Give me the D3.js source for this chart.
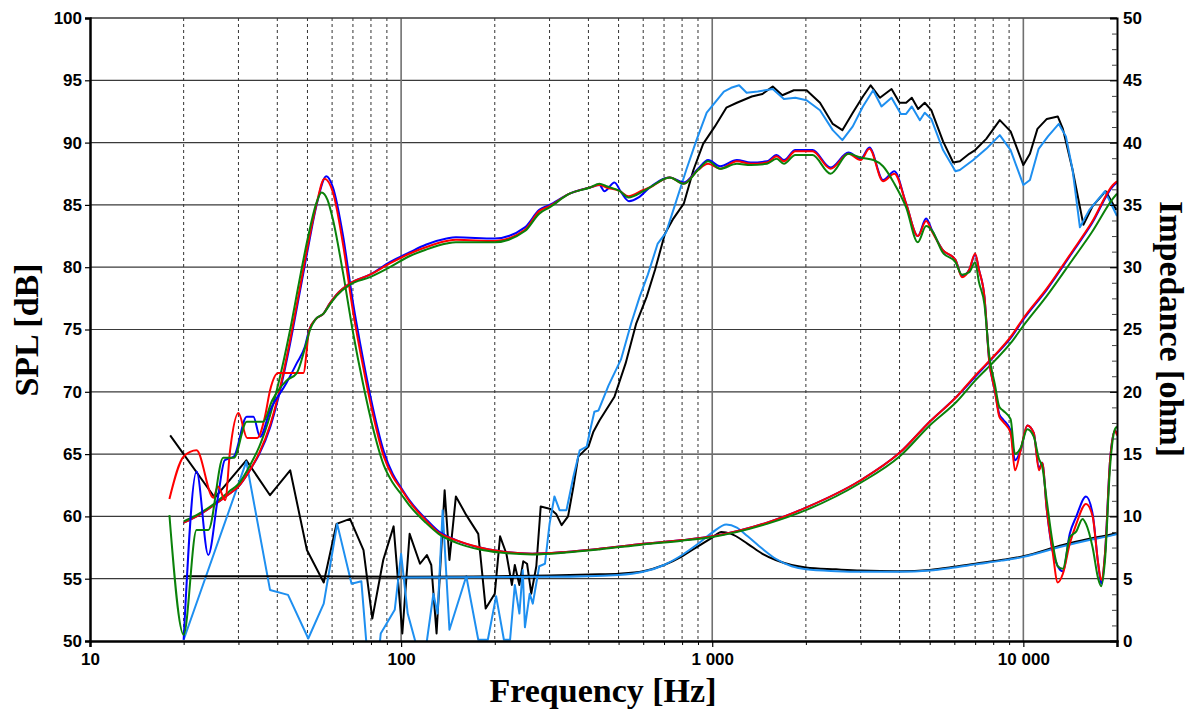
<!DOCTYPE html>
<html>
<head>
<meta charset="utf-8">
<script src="https://cdn.jsdelivr.net/npm/d3@7"></script>
<style>
  body { margin: 0; background: #fff; }
</style>
</head>
<body>
<div id="chart"></div>
<script>
// chart size and plot margins
const width = 1197,
      height = 711,
      margin = {top: 18, right: 80, bottom: 70, left: 90};

const innerWidth = width - margin.left - margin.right,
      innerHeight = height - margin.top - margin.bottom;

const tickFont = "'Liberation Sans', Arial, sans-serif",
      titleFont = "'Liberation Serif', 'Times New Roman', serif";

// ---- data: [frequency Hz, value] ----
// woofer impedance (ohm, right axis)
const impBlue = [[20,9.5],[22,10.0],[25,10.9],[28,11.8],[30,12.4],[33,13.9],[35,15.0],[38,17.2],[40,19.2],[44,23.9],[47,27.7],[50,31.3],[53.5,35.0],[57.5,37.3],[60.4,36.4],[65,32.6],[70,27.2],[75.5,22.6],[81,18.8],[88,15.2],[94,13.4],[100,12.3],[107,11.2],[120,9.8],[132,8.8],[150,8.1],[179,7.5],[208,7.2],[264,7.0],[339,7.15],[434,7.4],[600,7.8],[800,8.1],[1000,8.4],[1500,9.5],[2000,10.7],[3000,12.9],[4000,15.1],[5000,17.6],[6100,19.6],[7000,21.2],[8100,22.9],[9100,24.3],[10000,25.8],[11900,28.2],[14300,31.1],[16600,33.5],[19400,36.5],[20000,36.8]];
const impRed = [[20,9.5],[22,10.0],[25,10.9],[28,11.8],[30,12.4],[33,13.9],[35,15.1],[38,17.4],[40,19.4],[44,24.2],[47,28.0],[50,31.6],[53.5,35.1],[56.7,37.1],[60.4,36.0],[65,31.9],[70,26.5],[75.5,22.0],[81,18.3],[88,14.8],[94,13.2],[100,12.2],[107,11.1],[120,9.7],[132,8.7],[150,8.1],[179,7.5],[208,7.2],[264,7.0],[339,7.15],[434,7.4],[600,7.8],[800,8.1],[1000,8.4],[1500,9.5],[2000,10.7],[3000,12.9],[4000,15.1],[5000,17.6],[6100,19.6],[7000,21.3],[8100,22.95],[9100,24.4],[10000,25.9],[11900,28.3],[14300,31.2],[16600,33.6],[19400,36.6],[20000,36.9]];
const impGreen = [[20,9.6],[22,10.1],[25,11.0],[28,12.0],[30,12.6],[33,14.3],[35,15.6],[38,18.2],[40,20.3],[44,25.0],[47,28.8],[50,32.2],[53.5,35.2],[55.5,36.0],[58,35.4],[60.4,33.8],[65,29.6],[70,24.8],[75.5,20.6],[81,17.2],[88,14.1],[94,12.7],[100,11.8],[107,10.8],[120,9.5],[132,8.6],[150,7.9],[179,7.35],[208,7.1],[264,6.95],[339,7.1],[434,7.35],[600,7.75],[800,8.05],[1000,8.35],[1500,9.4],[2000,10.5],[3000,12.7],[4000,14.8],[5000,17.3],[6100,19.2],[7000,20.9],[8100,22.5],[9100,23.9],[10000,25.3],[11900,27.7],[14300,30.5],[16600,32.8],[19400,35.5],[20000,35.9]];

// woofer SPL (dB, left axis)
const splBlue = [[20,50.1],[22,63.6],[24,56.9],[25.8,61.6],[27.1,64.5],[29,64.8],[31.9,68.0],[33.5,68.0],[35.2,66.4],[37.9,68.5],[42.8,70.7],[46.2,72.3],[49,73.6],[50.7,75.0],[53,75.8],[56.4,76.3],[59,77.1],[62,77.8],[68.5,78.7],[79.4,79.4],[92,80.4],[106.7,81.2],[120,81.8],[140,82.3],[150,82.4],[200,82.3],[250,83.2],[278,84.6],[300,85.0],[348,85.9],[405,86.4],[434,86.6],[450,86.1],[485,86.8],[510,86.0],[540,85.3],[580,85.6],[630,86.4],[730,87.2],[810,86.8],[900,87.9],[970,88.6],[1060,88.1],[1200,88.6],[1330,88.4],[1500,88.5],[1610,89.0],[1700,88.6],[1850,89.4],[2100,89.4],[2400,88.0],[2740,89.2],[3000,88.7],[3200,89.6],[3540,87.0],[3850,87.7],[4200,85.1],[4580,82.5],[4870,83.9],[5100,82.9],[5500,81.4],[6050,80.6],[6350,79.3],[6700,79.8],[7000,81.0],[7200,79.8],[7500,77.6],[7760,72.6],[8100,70.1],[8370,68.2],[8600,67.8],[9100,66.9],[9400,64.5],[9800,65.3],[10300,67.3],[10800,66.7],[11230,63.9],[11500,64.3],[11900,60.5],[12400,57.3],[12900,56.0],[13400,55.6],[14100,58.6],[14800,60.0],[15900,61.6],[16700,60.2],[17400,56.2],[17800,54.6],[18300,57.0],[19000,64.5],[19700,66.9],[20000,66.6]];
const splRed = [[18,61.4],[20,64.8],[22,65.3],[24.9,61.5],[25.8,62.4],[27.2,61.3],[28.2,65.3],[30,68.3],[32,66.3],[34.5,66.3],[36.5,68.0],[37.9,70.1],[40.3,71.5],[48.5,71.5],[50.7,75.0],[53,75.8],[56.4,76.3],[59,77.1],[62,77.8],[68.5,78.7],[79.4,79.4],[92,80.3],[106.7,81.1],[120,81.6],[140,82.1],[150,82.2],[200,82.1],[250,83.0],[278,84.5],[300,84.9],[348,85.9],[405,86.4],[434,86.6],[457,86.4],[505,86.1],[538,85.7],[600,86.2],[630,86.4],[730,87.2],[810,86.7],[900,87.8],[970,88.3],[1060,87.9],[1200,88.5],[1330,88.3],[1500,88.4],[1610,88.9],[1700,88.5],[1850,89.3],[2100,89.3],[2400,87.9],[2740,89.1],[3000,88.6],[3200,89.5],[3540,86.9],[3850,87.5],[4200,85.1],[4580,82.5],[4870,83.7],[5100,82.8],[5500,81.4],[6050,80.6],[6350,79.2],[6700,79.8],[7000,81.1],[7200,79.8],[7500,77.6],[7760,72.6],[8100,70.1],[8370,68.0],[8600,67.6],[9100,66.7],[9400,63.7],[9800,65.3],[10300,67.3],[10800,66.7],[11230,63.7],[11500,64.3],[11900,60.5],[12400,57.3],[12900,54.7],[13400,55.4],[14100,57.8],[14800,59.4],[15900,61.0],[16700,60.0],[17400,56.2],[17800,54.9],[18300,57.0],[19000,64.5],[19700,66.9],[20000,66.5]];
const splGreen = [[18,60.1],[20,50.5],[22,58.9],[24,58.9],[26.8,64.7],[29,64.7],[31.9,67.6],[36,67.6],[38.5,69.3],[42.8,70.9],[46.2,71.5],[49.2,73.6],[51,75.0],[53,75.8],[56.4,76.3],[59,77.0],[62,77.7],[68.5,78.6],[79.4,79.2],[92,80.0],[106.7,80.9],[120,81.4],[140,81.9],[150,82.0],[200,82.0],[250,82.9],[278,84.3],[300,84.8],[348,85.9],[405,86.4],[434,86.7],[457,86.5],[505,86.1],[538,85.6],[600,86.1],[630,86.4],[730,87.2],[810,86.7],[900,87.8],[970,88.5],[1060,87.9],[1200,88.3],[1330,88.2],[1500,88.3],[1610,88.7],[1700,88.3],[1850,89.0],[2100,89.0],[2400,87.5],[2740,89.1],[3000,88.8],[3300,88.6],[3540,88.1],[3850,86.7],[4200,84.8],[4580,82.0],[4870,83.3],[5100,82.9],[5500,81.2],[6050,80.4],[6350,79.4],[6700,79.6],[7000,80.4],[7200,78.8],[7500,77.0],[7760,73.0],[8100,70.6],[8370,68.8],[8600,68.5],[9100,67.8],[9400,65.0],[9800,65.5],[10300,67.0],[10800,66.4],[11230,64.6],[11500,64.0],[11900,61.2],[12400,58.0],[12900,56.0],[13400,55.8],[14100,58.3],[14800,58.8],[15500,59.8],[15900,59.4],[16700,57.5],[17400,55.0],[17800,54.4],[18300,56.5],[19000,64.0],[19700,67.0],[20000,67.2]];

// tweeter SPL (dB, left axis)
const splBlack = [[18.1,66.5],[25.2,61.5],[31.8,64.5],[37.9,61.7],[44,63.7],[49.8,57.3],[56.4,54.7],[62,59.4],[68.5,59.8],[75.7,57.3],[80.8,51.8],[87.6,56.5],[94.6,59.2],[100.9,50.6],[106.5,58.6],[115,56.2],[121,56.9],[125,56.1],[130,50.6],[138,62.1],[143,56.5],[150,61.6],[162,60.1],[177,58.6],[187,52.6],[200,53.8],[208,58.4],[218,57.0],[227,54.5],[232,56.1],[240,54.5],[247,56.4],[254,56.2],[262,53.8],[272,56.0],[281,60.8],[302,60.6],[315,60.2],[328,59.3],[344,60.0],[358,62.4],[371,64.8],[400,65.6],[415,66.8],[434,67.7],[485,69.6],[527,72.3],[570,75.5],[615,77.6],[655,79.8],[705,82.7],[750,83.9],[810,85.1],[870,87.8],[935,89.9],[1020,91.3],[1110,92.8],[1200,93.2],[1340,93.7],[1450,93.9],[1565,94.5],[1680,93.8],[1830,94.2],[2010,94.2],[2220,93.2],[2440,91.5],[2620,91.0],[2830,92.4],[3050,93.7],[3230,94.6],[3460,93.6],[3770,94.3],[4000,93.2],[4200,93.2],[4380,93.6],[4590,92.7],[4820,93.2],[5060,92.6],[5520,90.1],[5950,88.4],[6250,88.5],[6700,89.1],[7000,89.4],[7600,90.3],[8400,91.8],[9100,90.9],[10000,88.2],[10500,89.1],[11100,91.1],[11900,91.9],[12900,92.1],[13400,91.1],[14400,87.8],[15600,83.4],[16700,84.9],[18400,86.1],[19900,84.6]];
const splLightBlue = [[20,50.1],[31.8,64.4],[37.9,54.1],[43.3,53.7],[50.3,50.2],[56.4,53.0],[62.3,59.4],[69.3,54.6],[74.5,54.8],[79,47],[84,48],[86,50.6],[95.4,52.5],[100,57.0],[105,52.2],[111,50.0],[116,46],[121,50.0],[127,53.8],[131,52.2],[136,60.5],[143,50.9],[162,55.2],[177,50.1],[190,50.1],[202,53.6],[214,50.1],[224,50.1],[232,54.5],[240,52.2],[246,55.7],[250,51.1],[259,53.8],[265,53.0],[278,56.0],[290,56.2],[300,59.4],[311,61.6],[323,60.5],[340,60.5],[358,63.2],[375,65.3],[395,65.6],[405,66.9],[418,68.4],[431,68.5],[464,70.5],[509,72.6],[549,75.5],[584,77.6],[621,79.4],[668,81.9],[711,82.8],[766,85.3],[825,87.8],[890,90.2],[960,92.4],[1020,93.2],[1090,94.1],[1150,94.4],[1220,94.6],[1290,94.0],[1400,94.1],[1565,94.3],[1700,93.5],[1850,93.6],[2010,93.4],[2220,92.6],[2440,91.0],[2620,90.2],[2830,91.3],[3050,92.9],[3290,94.2],[3500,92.9],[3770,93.6],[4040,92.3],[4200,92.3],[4380,92.9],[4650,91.8],[4820,92.4],[5060,91.9],[5520,89.4],[6050,87.7],[6250,87.8],[6900,88.6],[7600,89.5],[8400,90.6],[9100,89.4],[10000,86.6],[10500,87.0],[11200,89.5],[12000,90.5],[13000,91.5],[13700,90.5],[14400,87.8],[15200,83.2],[16300,84.6],[18300,86.1],[20000,84.1]];

// tweeter impedance (ohm, right axis)
const impBlack = [[20,5.2],[50,5.2],[100,5.15],[200,5.2],[300,5.25],[434,5.35],[500,5.4],[600,5.6],[700,6.1],[800,6.8],[900,7.6],[1000,8.3],[1070,8.75],[1150,8.6],[1300,7.8],[1450,7.0],[1600,6.5],[1800,6.1],[2000,5.9],[2500,5.75],[3000,5.65],[4000,5.6],[5000,5.7],[6000,5.95],[7000,6.2],[8500,6.5],[10000,6.8],[13400,7.7],[16300,8.2],[19400,8.6],[20000,8.7]];
const impLightBlue = [[100,5.1],[300,5.15],[500,5.3],[600,5.55],[700,6.1],[800,6.9],[900,7.8],[1000,8.7],[1110,9.35],[1200,9.1],[1300,8.4],[1450,7.4],[1600,6.6],[1800,6.0],[2000,5.75],[2500,5.6],[3000,5.55],[4000,5.55],[5000,5.65],[6000,5.9],[7000,6.15],[8500,6.45],[10000,6.75],[13400,7.6],[16300,8.1],[19400,8.5],[20000,8.6]];

// ticks
const freqMajor = [10, 100, 1000, 10000];
const splTicks = [50, 55, 60, 65, 70, 75, 80, 85, 90, 95, 100];
const ohmTicks = [0, 5, 10, 15, 20, 25, 30, 35, 40, 45, 50];

// minor frequency grid: 20..90, 200..900, ...
const freqMinor = [];
[10, 100, 1000, 10000].forEach(function(dec) {
  for (let k = 2; k <= 9; k++) {
    if (dec * k < 20000) freqMinor.push(dec * k);
  }
});
const ohmMinor = d3.range(0, 50.01, 1.25).filter(v => v % 5 !== 0);

const svg = d3.select("#chart")
              .append("svg")
                .attr("width", width)
                .attr("height", height)
              .append("g")
                .attr("transform", "translate(" + margin.left + "," + margin.top + ")");

// scales
const xScale = d3.scaleLog().domain([10, 20000]).range([0, innerWidth]);
const yScale = d3.scaleLinear().domain([50, 100]).range([innerHeight, 0]);
const yScaleR = d3.scaleLinear().domain([0, 50]).range([innerHeight, 0]);

const fmt = d => d3.format(",")(d).replace(/,/g, " ");

// horizontal grid
svg.append("g")
  .selectAll("line")
  .data(splTicks.slice(1))
  .enter()
  .append("line")
    .attr("x1", 0).attr("x2", innerWidth)
    .attr("y1", d => yScale(d)).attr("y2", d => yScale(d))
    .attr("stroke", "#3a3a3a")
    .attr("stroke-width", 1.2);

// minor vertical grid (dashed)
svg.append("g")
  .selectAll("line")
  .data(freqMinor)
  .enter()
  .append("line")
    .attr("x1", d => xScale(d)).attr("x2", d => xScale(d))
    .attr("y1", 0).attr("y2", innerHeight)
    .attr("stroke", "#333")
    .attr("stroke-width", 1)
    .attr("stroke-dasharray", "3,3");

// decade lines
svg.append("g")
  .selectAll("line")
  .data(freqMajor.slice(1))
  .enter()
  .append("line")
    .attr("x1", d => xScale(d)).attr("x2", d => xScale(d))
    .attr("y1", 0).attr("y2", innerHeight)
    .attr("stroke", "#707070")
    .attr("stroke-width", 1.6);

// clip curves to plot area
svg.append("clipPath")
  .attr("id", "plot-clip")
  .append("rect")
    .attr("width", innerWidth)
    .attr("height", innerHeight);

const lineL = d3.line()
  .x(d => xScale(d[0]))
  .y(d => yScale(d[1]))
  .curve(d3.curveMonotoneX);

const lineR = d3.line()
  .x(d => xScale(d[0]))
  .y(d => yScaleR(d[1]))
  .curve(d3.curveMonotoneX);

const lineRaw = d3.line()
  .x(d => xScale(d[0]))
  .y(d => yScale(d[1]));

const curves = svg.append("g").attr("clip-path", "url(#plot-clip)");

// draw order: tweeter first, then woofer
const series = [
  {data: splBlack, line: lineRaw, color: "#000000"},
  {data: splLightBlue, line: lineRaw, color: "#1e8ff0"},
  {data: impBlack, line: lineR, color: "#000000"},
  {data: impLightBlue, line: lineR, color: "#1e8ff0"},
  {data: impBlue, line: lineR, color: "#0000ff"},
  {data: impRed, line: lineR, color: "#ff0000"},
  {data: impGreen, line: lineR, color: "#0a820a"},
  {data: splBlue, line: lineL, color: "#0000ff"},
  {data: splRed, line: lineL, color: "#ff0000"},
  {data: splGreen, line: lineL, color: "#0a820a"}
];

series.forEach(function(s) {
  curves.append("path")
    .datum(s.data)
    .attr("fill", "none")
    .attr("stroke", s.color)
    .attr("stroke-width", 2)
    .attr("stroke-linejoin", "round")
    .attr("d", s.line);
});

// top border
svg.append("line")
  .attr("x1", 0).attr("x2", innerWidth)
  .attr("y1", 0).attr("y2", 0)
  .attr("stroke", "#3a3a3a")
  .attr("stroke-width", 1.2);

// set the tick label font on an axis group
function styleTicks(g) {
  g.attr("font-family", tickFont)
   .attr("font-size", 17)
   .attr("font-weight", "bold");
  g.selectAll(".tick text").attr("fill", "#000");
}

// left axis
svg.append("g")
  .attr("class", "y-axis")
  .call(d3.axisLeft(yScale).tickValues(splTicks).tickSize(5).tickPadding(3).tickFormat(d3.format("d")))
  .call(styleTicks)
  .call(g => g.select(".domain").attr("stroke-width", 2.5))
  .call(g => g.selectAll(".tick line").attr("stroke-width", 1.2));

// right axis: major and minor ticks pointing inward
svg.append("g")
  .attr("class", "y-axis-r")
  .attr("transform", "translate(" + innerWidth + ",0)")
  .call(d3.axisRight(yScaleR).tickValues(ohmTicks).tickSize(-7).tickPadding(6).tickFormat(d3.format("d")))
  .call(styleTicks)
  .call(g => g.select(".domain").attr("stroke-width", 2))
  .call(g => g.selectAll(".tick line").attr("stroke-width", 1.2));

svg.append("g")
  .attr("transform", "translate(" + innerWidth + ",0)")
  .call(d3.axisRight(yScaleR).tickValues(ohmMinor).tickSize(-5).tickFormat(""))
  .call(g => g.select(".domain").remove())
  .call(g => g.selectAll(".tick text").remove())
  .call(g => g.selectAll(".tick line").attr("stroke", "#444"));

// bottom axis
svg.append("g")
  .attr("class", "x-axis-minor")
  .attr("transform", "translate(0," + innerHeight + ")")
  .call(d3.axisBottom(xScale).tickValues(freqMinor).tickSize(4).tickFormat(""))
  .call(g => g.select(".domain").remove())
  .call(g => g.selectAll(".tick text").remove());

svg.append("g")
  .attr("class", "x-axis")
  .attr("transform", "translate(0," + innerHeight + ")")
  .call(d3.axisBottom(xScale).tickValues(freqMajor).tickSize(6).tickPadding(6).tickFormat(fmt))
  .call(styleTicks)
  .call(g => g.select(".domain").attr("stroke-width", 2.5))
  .call(g => g.selectAll(".tick line").attr("stroke-width", 1.2));

// axis titles
function titleText(sel) {
  sel.attr("font-family", titleFont)
     .attr("font-size", 34)
     .attr("font-weight", "bold")
     .attr("fill", "#000")
     .attr("text-anchor", "middle");
}

svg.append("text")
  .call(titleText)
  .attr("x", 513)
  .attr("y", 684)
  .text("Frequency [Hz]");

svg.append("text")
  .call(titleText)
  .attr("transform", "translate(" + (-52) + "," + 312 + ") rotate(-90)")
  .text("SPL [dB]");

svg.append("text")
  .call(titleText)
  .attr("transform", "translate(" + (innerWidth + 43) + "," + 311 + ") rotate(90)")
  .text("Impedance [ohm]");
</script>
</body>
</html>
